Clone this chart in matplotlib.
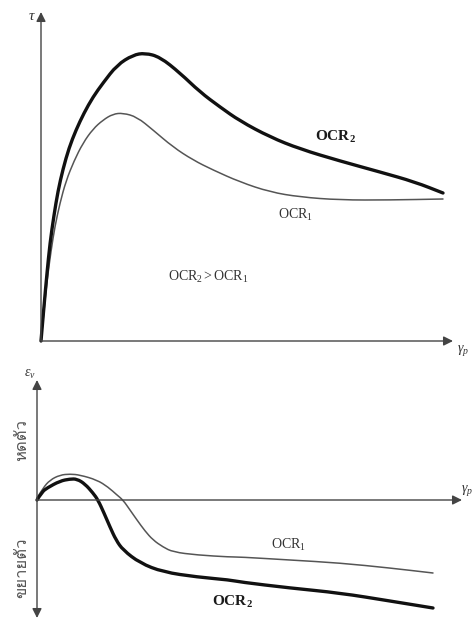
import numpy as np
import matplotlib
matplotlib.use('Agg')
import matplotlib.pyplot as plt
from matplotlib import font_manager
from matplotlib.ft2font import FT2Font
from matplotlib.path import Path
from matplotlib.patches import PathPatch

# ---- data (arbitrary units) ----
# upper panel: shear stress tau vs plastic shear strain gamma_p
top_g_ocr2 = [0, 3, 6, 9, 13, 17, 22, 28, 35, 43, 52, 62, 76, 92, 104, 119, 139, 159, 179, 199, 229, 259, 299, 339, 374, 402]
top_t_ocr2 = [0, 35, 68, 98, 126, 150, 172, 193, 211, 228, 244, 258, 276, 286, 288, 284, 268, 249, 234, 220, 204, 192, 180, 169, 159, 148]
top_g_ocr1 = [0, 3, 6, 10, 14, 19, 25, 33, 42, 52, 62, 72, 82, 96, 112, 132, 152, 172, 199, 229, 259, 299, 349, 402]
top_t_ocr1 = [0, 30, 60, 90, 115, 138, 160, 180, 198, 212, 221, 227, 228, 224, 211, 194, 181, 171, 159, 149, 144, 141, 141, 142]

# lower panel: volumetric strain eps_v vs gamma_p
bot_g_ocr2 = [0, 5, 10, 23, 33, 40, 48, 56, 61, 67, 73, 79, 86, 103, 126, 160, 193, 203, 253, 303, 353, 396]
bot_e_ocr2 = [0, 8, 12, 19, 21, 21, 16, 7, 0, -13, -27, -40, -50, -63, -72, -77, -80, -82, -88, -93, -101, -108]
bot_g_ocr1 = [0, 6, 13, 23, 33, 43, 60, 71, 80, 86, 93, 100, 108, 116, 126, 136, 160, 193, 203, 253, 303, 353, 396]
bot_e_ocr1 = [2, 12, 20, 25, 26, 25, 20, 13, 5, 0, -10, -20, -31, -40, -47, -52, -55, -57, -57, -60, -63, -68, -73]

lbl_up = 'หดตัว'
lbl_down = 'ขยายตัว'

# ---- fonts ----
plt.rcParams['font.family'] = ['Liberation Serif', 'DejaVu Serif']
plt.rcParams['mathtext.fontset'] = 'custom'
plt.rcParams['mathtext.rm'] = 'Liberation Serif'
plt.rcParams['mathtext.it'] = 'Liberation Serif:italic'
plt.rcParams['mathtext.bf'] = 'Liberation Serif:bold'

# find some installed upright font that has Thai glyphs
thai_fp = None
for f in font_manager.fontManager.ttflist:
    if f.style != 'normal' or f.weight not in (400, 'normal', 'regular'):
        continue
    try:
        if 0x0E14 in FT2Font(f.fname).get_charmap():
            thai_fp = font_manager.FontProperties(fname=f.fname)
            break
    except Exception:
        pass
if thai_fp is None:
    thai_fp = font_manager.FontProperties(family='DejaVu Sans')


def smooth(ax, xs, ys, **kw):
    # quadratic bezier through the midpoints, the read points act as controls
    p = np.column_stack([xs, ys]).astype(float)
    verts = [p[0]]
    codes = [Path.MOVETO]
    for i in range(1, len(p) - 1):
        verts += [p[i], (p[i] + p[i+1]) / 2]
        codes += [Path.CURVE3, Path.CURVE3]
    verts.append(p[-1]); codes.append(Path.LINETO)
    ax.add_patch(PathPatch(Path(verts, codes), fill=False, capstyle='round',
                           joinstyle='round', clip_on=False, **kw))


W, H = 472, 629
fig = plt.figure(figsize=(W/100, H/100), dpi=100)

thick = '#111111'
thin = '#555555'
axc = '#444444'
txt = '#333333'

# upper panel, origin at pixel (41,341)
ax1 = fig.add_axes([41/W, (H-341)/H, 431/W, 341/H])
ax1.set_xlim(0, 431); ax1.set_ylim(0, 341)
ax1.axis('off')
arr = dict(arrowstyle='-|>', mutation_scale=14, lw=1.0, color=axc, shrinkA=0, shrinkB=0)
ax1.annotate('', xy=(0, 329), xytext=(0, 0), arrowprops=arr, annotation_clip=False)
ax1.annotate('', xy=(412, 0), xytext=(0, 0), arrowprops=arr, annotation_clip=False)
smooth(ax1, top_g_ocr1, top_t_ocr1, edgecolor=thin, lw=1.1)
smooth(ax1, top_g_ocr2, top_t_ocr2, edgecolor=thick, lw=2.4)
ax1.text(-5, 324, r'$\tau$', fontsize=11, ha='right', va='center', color=txt)
ax1.text(422, -10, r'$\gamma_p$', fontsize=10, ha='center', va='center', color=txt)
ax1.text(294, 204, r'$\mathbf{OCR_2}$', fontsize=11, ha='center', va='center', color='#1a1a1a')
ax1.text(254, 126, r'$\mathrm{OCR_1}$', fontsize=10, ha='center', va='center', color=txt)
ax1.text(167, 64, r'$\mathrm{OCR_2 > OCR_1}$', fontsize=10, ha='center', va='center', color=txt)

# lower panel, origin at pixel (37,500)
ax2 = fig.add_axes([37/W, (H-625)/H, 435/W, 250/H])
ax2.set_xlim(0, 435); ax2.set_ylim(-125, 125)
ax2.axis('off')
ax2.annotate('', xy=(0, 120), xytext=(0, 0), arrowprops=arr, annotation_clip=False)
ax2.annotate('', xy=(0, -118), xytext=(0, 0), arrowprops=arr, annotation_clip=False)
ax2.annotate('', xy=(425, 0), xytext=(0, 0), arrowprops=arr, annotation_clip=False)
smooth(ax2, bot_g_ocr1, bot_e_ocr1, edgecolor=thin, lw=1.1)
smooth(ax2, bot_g_ocr2, bot_e_ocr2, edgecolor=thick, lw=2.4)
ax2.text(-7, 126, r'$\varepsilon_v$', fontsize=10, ha='center', va='center', color=txt)
ax2.text(430, 10, r'$\gamma_p$', fontsize=10, ha='center', va='center', color=txt)
ax2.text(251, -45, r'$\mathrm{OCR_1}$', fontsize=10, ha='center', va='center', color=txt)
ax2.text(195, -102, r'$\mathbf{OCR_2}$', fontsize=11, ha='center', va='center', color='#1a1a1a')
ax2.text(-15, 60, lbl_up, fontproperties=thai_fp, fontsize=12, rotation=90,
         ha='center', va='center', color='#555555')
ax2.text(-15, -68, lbl_down, fontproperties=thai_fp, fontsize=12, rotation=90,
         ha='center', va='center', color='#555555')

fig.savefig('out.png', dpi=100)
